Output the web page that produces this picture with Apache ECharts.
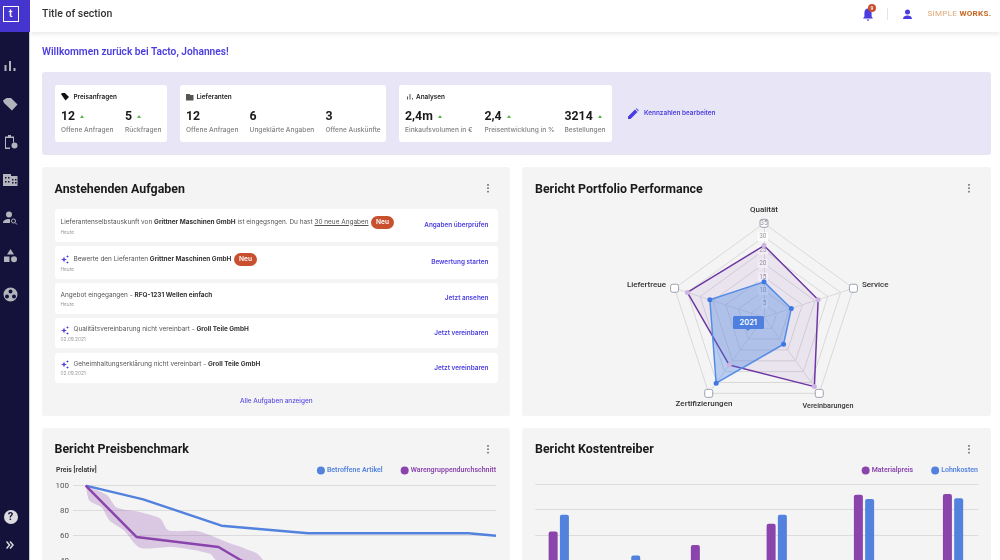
<![CDATA[<!DOCTYPE html>
<html lang="de"><head><meta charset="utf-8">
<script src="https://cdn.jsdelivr.net/npm/echarts@6/dist/echarts.min.js"></script>
<style>
*{box-sizing:border-box;margin:0;padding:0}
html,body{width:1000px;height:560px;overflow:hidden;background:#fff;font-family:Inter,Roboto,sans-serif;color:#333}
.a{position:absolute;white-space:nowrap}
#page{position:absolute;left:0;top:0;width:1000px;height:560px;overflow:hidden;filter:blur(.45px)}
.side{left:0;top:0;width:30px;height:560px;background:#14123a;border-right:1px solid #c9c9d2}
.logo{left:0;top:0;width:29.5px;height:32px;background:#4634cf}
.logo div{position:absolute;left:2.5px;top:5.5px;width:16px;height:16px;border:1.5px solid #fff;color:#fff;font:500 11px/13px Roboto;text-align:center}
.head{left:30px;top:0;width:970px;height:32px;background:#fff;box-shadow:0 2px 5px rgba(0,0,0,.09)}
.card{position:absolute;background:#f4f4f4;border-radius:3px}
.ttl{position:absolute;font:700 12.4px/16px Roboto;color:#1a1a1a;white-space:nowrap}
.kp{position:absolute;background:#fff;border-radius:3px;top:85px;height:57px}
.kh{position:absolute;top:92.5px;font:600 6.4px/8px Inter;color:#222;white-space:nowrap}
.kn{position:absolute;top:109px;font:700 12.3px/15px Roboto;color:#1a1a1a;white-space:nowrap}
.kn i{display:inline-block;width:0;height:0;border-left:2.2px solid transparent;border-right:2.2px solid transparent;border-bottom:3.2px solid #62b04e;margin-left:5px;vertical-align:2px}
.kl{position:absolute;top:126px;font:500 6.6px/8px Inter;color:#808080;white-space:nowrap}
.row{position:absolute;left:54.5px;width:443px;background:#fff;border-radius:3px}
.rt{position:absolute;font:400 6.45px/9px Inter;color:#555;white-space:nowrap}
.rt b{font-weight:700;color:#333}
.rd{position:absolute;font:400 4.8px/6px Inter;color:#999;white-space:nowrap}
.ra{position:absolute;right:511.5px;font:600 6.4px/9px Inter;color:#4a3de0;white-space:nowrap}
.neu{position:absolute;background:#c8502f;color:#fff;font:600 6.6px/13px Inter;height:13px;border-radius:7px;width:23px;text-align:center}
.dots{position:absolute;width:2px;height:9px;background:radial-gradient(circle at 1px 1px,#888 .9px,transparent 1px) 0 0/2px 3.4px repeat-y}
.ch{position:absolute}
.ic{position:absolute;fill:#b4b4bc}
</style></head><body>
<div id="page">
<div class="a head"></div>
<div class="a" style="left:42px;top:7px;font:500 10.5px/13px Roboto;color:#333">Title of section</div>
<svg class="ic" style="left:861.5px;top:7px;fill:#4a3de0" width="12" height="16" viewBox="0 0 12 16"><path d="M6 1.5c-2.4 0-3.6 2-3.6 4.400V9.500L1 11.500h10L9.600 9.500V5.900C9.600 3.500 8.400 1.500 6 1.500zM4.700 12.500a1.300 1.300 0 0 0 2.600 0z"/></svg>
<div class="a" style="left:868px;top:3.5px;width:8px;height:8px;border-radius:4px;background:#c8502f;color:#fff;font:500 5px/8px Roboto;text-align:center">9</div>
<div class="a" style="left:887px;top:8px;width:.8px;height:12px;background:#e5e5e5"></div>
<svg class="ic" style="left:902px;top:8.5px;fill:#4a3de0" width="11" height="11" viewBox="0 0 11 11"><circle cx="5.500" cy="3" r="2.500"/><path d="M1 10c0-2.500 2.500-3.500 4.500-3.500S10 7.500 10 10z"/></svg>
<div class="a" style="left:927.500px;top:8px;font:400 8.100px/11px Roboto;letter-spacing:.25px;color:#e3a878">SIMPLE <b style="font-weight:700;color:#c8651f">WORKS.</b></div>

<div class="a side"></div><div class="a logo"><div>t</div></div>
<svg class="ic" style="left:3px;top:59px" width="14" height="14" viewBox="0 0 14 14"><rect x="1.500" y="6" width="2" height="6"/><rect x="6" y="2" width="2" height="10"/><rect x="10.500" y="9" width="2" height="3"/></svg>
<svg class="ic" style="left:3px;top:97px" width="15" height="15" viewBox="0 0 15 15"><path d="M0 3.500 3.500 1H8l6.500 6.500L9 13.500 1 6z"/></svg>
<svg class="ic" style="left:3.500px;top:134px" width="14" height="16" viewBox="0 0 14 16"><path fill-rule="evenodd" d="M1 2.500h3V1h3v1.500h3v6H9V4H2v9.500h4V15H1z"/><circle cx="10.500" cy="11.500" r="3"/></svg>
<svg class="ic" style="left:3px;top:173px" width="15" height="14" viewBox="0 0 15 14"><path d="M0 1h8v2h6.500v10H0z"/><path d="M2 4h1.500v1.500H2zM5 4h1.500v1.500H5zM2 8h1.500v1.500H2zM5 8h1.500v1.500H5zM9 6h1.500v1.500H9zM12 6h1.500v1.500H12zM9 9h1.500v1.500H9zM12 9h1.500v1.500H12z" fill="#14123a"/></svg>
<svg class="ic" style="left:3px;top:211px" width="15" height="14" viewBox="0 0 15 14"><circle cx="6" cy="3.500" r="3"/><path d="M0 12c0-3 3-4 6-4 .800 0 1 .500 1 1v3z"/><circle cx="10.500" cy="10" r="2" fill="none" stroke="#b4b4bc" stroke-width="1"/><path d="M12 11.500l2 2" stroke="#b4b4bc"/></svg>
<svg class="ic" style="left:3px;top:249px" width="15" height="14" viewBox="0 0 15 14"><path d="M7.500 0 11 5.500H4z"/><rect x="1" y="7.500" width="5.500" height="5.500"/><circle cx="11" cy="10.300" r="3"/></svg>
<svg class="ic" style="left:3px;top:287px" width="15" height="15" viewBox="0 0 15 15"><path fill-rule="evenodd" d="M7.500.500a7 7 0 1 0 0 14 7 7 0 0 0 0-14zM7.500 2.500a2 2 0 1 1 0 4 2 2 0 0 1 0-4zM4 7.500a2 2 0 1 1 0 4 2 2 0 0 1 0-4zM11 7.500a2 2 0 1 1 0 4 2 2 0 0 1 0-4z"/></svg>
<div class="a" style="left:3.500px;top:510px;width:14px;height:14px;border-radius:7px;background:#dcdce0;color:#14123a;font:700 11px/14px Roboto;text-align:center">?</div>
<svg class="ic" style="left:6px;top:541px" width="8" height="8" viewBox="0 0 8 8"><path d="M.5.500 3.500 4 .5 7.500M4 .5 7 4 4 7.500" fill="none" stroke="#dcdce0" stroke-width="1.500"/></svg>

<div class="a" style="left:42px;top:45px;font:600 10.200px/14px Roboto;color:#4a3de0">Willkommen zurück bei Tacto, Johannes!</div>
<div class="a" style="left:42px;top:72px;width:949px;height:82.500px;background:#e8e6f6;border-radius:3px"></div>
<div class="kp" style="left:54.500px;width:112.500px"></div>
<div class="kp" style="left:179.500px;width:206.500px"></div>
<div class="kp" style="left:399px;width:213px"></div>
<svg class="ic" style="left:61px;top:92.500px;fill:#111" width="8" height="8" viewBox="0 0 8 8"><path d="M0 1 1 0h3l4 4-3.500 3.500z"/></svg>
<svg class="ic" style="left:186px;top:93px;fill:#555" width="8" height="8" viewBox="0 0 8 8"><path d="M0 1h4v1h3.500v5.500H0z"/></svg>
<svg class="ic" style="left:406.500px;top:93px;fill:#555" width="7" height="7" viewBox="0 0 7 7"><rect x="0" y="3.500" width="1" height="3"/><rect x="2.500" y="1" width="1" height="5.500"/><rect x="5" y="5" width="1" height="1.500"/></svg>
<div class="kh" style="left:73.500px">Preisanfragen</div><div class="kh" style="left:196.500px">Lieferanten</div><div class="kh" style="left:416px">Analysen</div>
<div class="kn" style="left:61px">12<i></i></div><div class="kn" style="left:125px">5<i></i></div>
<div class="kn" style="left:186px">12</div><div class="kn" style="left:249.500px">6</div><div class="kn" style="left:325.500px">3</div>
<div class="kn" style="left:405px">2,4m<i></i></div><div class="kn" style="left:484.500px">2,4<i></i></div><div class="kn" style="left:564.500px">3214<i></i></div>
<div class="kl" style="left:61px">Offene Anfragen</div><div class="kl" style="left:125px">Rückfragen</div>
<div class="kl" style="left:186px">Offene Anfragen</div><div class="kl" style="left:249.500px">Ungeklärte Angaben</div><div class="kl" style="left:325.500px">Offene Auskünfte</div>
<div class="kl" style="left:405px">Einkaufsvolumen in €</div><div class="kl" style="left:484.500px">Preisentwicklung in %</div><div class="kl" style="left:564.500px">Bestellungen</div>
<svg class="ic" style="left:628px;top:108px;fill:#4a3de0" width="11" height="11" viewBox="0 0 11 11"><path d="M0 11V8.500L7 1.500 9.500 4 2.500 11zM7.800.800 8.500.200l2.300 2.300-.700.700z"/></svg>
<div class="a" style="left:644px;top:109px;font:600 6.400px/9px Inter;color:#4a3de0">Kennzahlen bearbeiten</div>

<div class="card" style="left:42px;top:167px;width:468px;height:248.500px"></div>
<div class="card" style="left:522px;top:167px;width:469px;height:248.500px"></div>
<div class="card" style="left:42px;top:428px;width:468px;height:140px"></div>
<div class="card" style="left:522px;top:428px;width:469px;height:140px"></div>
<div class="ttl" style="left:54.500px;top:180.500px">Anstehenden Aufgaben</div>
<div class="ttl" style="left:535px;top:180.500px">Bericht Portfolio Performance</div>
<div class="ttl" style="left:54.500px;top:441px">Bericht Preisbenchmark</div>
<div class="ttl" style="left:535px;top:441px">Bericht Kostentreiber</div>
<div class="dots" style="left:487px;top:184px"></div><div class="dots" style="left:967.500px;top:184px"></div>
<div class="dots" style="left:487px;top:445px"></div><div class="dots" style="left:967.500px;top:445px"></div>

<div class="row" style="top:209.300px;height:32.300px"></div>
<div class="row" style="top:246.300px;height:32.300px"></div>
<div class="row" style="top:283px;height:30.700px"></div>
<div class="row" style="top:318px;height:30.300px"></div>
<div class="row" style="top:353px;height:30.300px"></div>
<div class="rt" style="left:60.500px;top:217.500px">Lieferantenselbstauskunft von <b>Grittner Maschinen GmbH</b> ist eingegsngen. Du hast <u>30 neue Angaben</u></div>
<div class="neu" style="left:371px;top:215.500px">Neu</div>
<div class="rd" style="left:60.500px;top:229px">Heute</div><div class="ra" style="top:221px">Angaben überprüfen</div>
<div class="rt" style="left:73.500px;top:254.500px">Bewerte den Lieferanten <b>Grittner Maschinen GmbH</b></div>
<div class="neu" style="left:234px;top:252.500px">Neu</div>
<div class="rd" style="left:60.500px;top:266px">Heute</div><div class="ra" style="top:258px">Bewertung starten</div>
<div class="rt" style="left:60.500px;top:290.500px">Angebot eingegangen - <b>RFQ-1231 Wellen einfach</b></div>
<div class="rd" style="left:60.500px;top:300.500px">Heute</div><div class="ra" style="top:294px">Jetzt ansehen</div>
<div class="rt" style="left:73.500px;top:325px">Qualitätsvereinbarung nicht vereinbart - <b>Groll Teile GmbH</b></div>
<div class="rd" style="left:60.500px;top:335.500px">02.09.2021</div><div class="ra" style="top:329px">Jetzt vereinbaren</div>
<div class="rt" style="left:73.500px;top:359.500px">Geheimhaltungserklärung nicht vereinbart - <b>Groll Teile GmbH</b></div>
<div class="rd" style="left:60.500px;top:370px">02.09.2021</div><div class="ra" style="top:363.500px">Jetzt vereinbaren</div>
<svg class="ic" style="left:61px;top:254.500px;fill:#4a3de0" width="8" height="9" viewBox="0 0 8 9"><path d="M3 1.500l.8 2.200 2.200.8-2.200.8L3 7.500l-.8-2.200L0 4.500l2.200-.8zM6.500 0l.4 1.100L8 1.500l-1.100.4-.4 1.100-.4-1.100L5 1.500l1.100-.4zM6.500 6l.4 1.100L8 7.500l-1.100.4-.4 1.100-.4-1.100L5 7.500l1.100-.4z"/></svg>
<svg class="ic" style="left:61px;top:325.500px;fill:#4a3de0" width="8" height="9" viewBox="0 0 8 9"><path d="M3 1.500l.8 2.200 2.200.8-2.200.8L3 7.500l-.8-2.200L0 4.500l2.200-.8zM6.500 0l.4 1.100L8 1.500l-1.100.4-.4 1.100-.4-1.100L5 1.500l1.100-.4zM6.500 6l.4 1.100L8 7.500l-1.100.4-.4 1.100-.4-1.100L5 7.500l1.100-.4z"/></svg>
<svg class="ic" style="left:61px;top:360px;fill:#4a3de0" width="8" height="9" viewBox="0 0 8 9"><path d="M3 1.500l.8 2.200 2.200.8-2.200.8L3 7.500l-.8-2.200L0 4.500l2.200-.8zM6.500 0l.4 1.100L8 1.500l-1.100.4-.4 1.100-.4-1.100L5 1.500l1.100-.4zM6.500 6l.4 1.100L8 7.500l-1.100.4-.4 1.100-.4-1.100L5 7.500l1.100-.4z"/></svg>
<div class="a" style="left:240px;top:397px;font:500 6.400px/9px Inter;color:#5a4de0">Alle Aufgaben anzeigen</div>

<div class="ch" id="radar" style="left:522px;top:167px;width:469px;height:248px"></div>
<div class="a" style="left:732.500px;top:316px;width:31.500px;height:13px;background:#4f7fdf;border-radius:1.500px;color:#fff;font:600 7.500px/13px Inter;text-align:center">2021</div>
<div class="a" style="left:746px;top:329px;width:0;height:0;border-left:2px solid transparent;border-right:2px solid transparent;border-top:2.500px solid #4f7fdf"></div>
<div class="ch" id="line" style="left:42px;top:428px;width:468px;height:210px"></div>
<div class="ch" id="bars" style="left:522px;top:428px;width:469px;height:210px"></div>
</div>
<script>
// --- radar ---
const radarAxes = ['Qualität','Liefertreue','Zertifizierungen','Vereinbarungen','Service'];
const radarMax = 35;
const radarPurple = [26.7, 30, 22, 31.9, 21.2];
const radarBlue = [13.2, 21.2, 30.3, 12.4, 10.7];
const radarOuter = [35, 35, 35, 35, 35];
const radarTop = [35, '-', '-', '-', '-'];
// --- price benchmark: [x position, price] ---
const benchBlue = [[3,100],[16.6,89],[35.1,68],[55.6,62],[93.5,62],[100,60]];
const benchPurple = [[3,100],[15,59],[34.4,51],[39.9,40],[60,20],[93,12]];
const benchBandUpper = [[3,100],[8,92.5],[10.3,82.6],[15.8,79],[20.6,73.7],[22.5,64.3],[29.6,63.5],[36.3,55],[43.4,46],[45.4,39.7],[62,26],[93,16]];
const benchBandLower = [[93,8],[60,12],[34,39.7],[32.4,45.5],[23.7,50.9],[15.8,50.4],[12,64.3],[8.7,71.9],[6.800,82.6],[3.900,87.900],[3,100]];
// --- cost drivers: [x position, value] ---
const costMaterial = [[5.3,62.6],[21.4,25],[37.4,52],[54.5,68.7],[74.2,91.6],[94.3,92.1]];
const costLabour = [[5.3,75.8],[21.4,43.7],[37.4,30],[54.5,75.8],[74.2,88.2],[94.3,88.7]];
const PURPLE = '#8a44ac', BLUE = '#5282de', GRID = '#dcdcdc';
const lowerRadarNames = ['Zertifizierungen','Vereinbarungen'];

const legendBase = {icon:'circle',itemWidth:8,itemHeight:8,itemGap:18,top:38.500,right:14,padding:0,
  textStyle:{color:'inherit',fontFamily:'Roboto',fontWeight:600,fontSize:7,padding:[0,0,0,-3]}};

const radar = echarts.init(document.getElementById('radar'),null,{renderer:'canvas'});
radar.setOption({
  animation:false,
  radar:{center:[242,150.300],radius:94,startAngle:90,splitNumber:7,shape:'polygon',
    indicator:radarAxes.map((n,i)=>({name:n,max:radarMax,min:0,
      axisLabel:i===0?{show:true,color:'#999',fontSize:6.500,fontFamily:'Roboto',margin:-4,backgroundColor:'rgba(255,255,255,.85)',padding:[1,1.500],showMaxLabel:false,showMinLabel:false}:{show:false}})),
    axisName:{color:'#333',fontFamily:'Roboto',fontWeight:500,fontSize:8,formatter:n=>lowerRadarNames.includes(n)?'':n},
    nameGap:9,
    splitArea:{show:false},
    splitLine:{lineStyle:{color:'#d8d8d8',width:1}},
    axisLine:{lineStyle:{color:'#dadada',width:1}},
    axisTick:{show:false}},
  graphic:[
    {type:'text',x:182,y:237,style:{text:lowerRadarNames[0],x:0,y:0,align:'center',verticalAlign:'middle',fill:'#333',font:'500 8px Roboto'}},
    {type:'text',x:306,y:239,style:{text:lowerRadarNames[1],x:0,y:0,align:'center',verticalAlign:'middle',fill:'#333',font:'500 7.2px Roboto'}}
  ],
  series:[
    {type:'radar',silent:true,data:[{value:radarPurple,symbol:'circle',symbolSize:5,
      itemStyle:{color:'#cdb3e2'},lineStyle:{color:'#6c37a0',width:1.500},areaStyle:{color:'rgba(138,68,172,.09)',opacity:1}}]},
    {type:'radar',silent:true,data:[{value:radarBlue,symbol:'circle',symbolSize:5,
      itemStyle:{color:'#3f78e2'},lineStyle:{color:'#5a8fe8',width:1.500},areaStyle:{color:'rgba(70,130,225,.35)',opacity:1}}]},
    {type:'radar',silent:true,data:[{value:radarOuter,symbol:'roundRect',symbolSize:8,
      itemStyle:{color:'#fff',borderColor:'#9aa0b0',borderWidth:1},lineStyle:{opacity:0},areaStyle:{opacity:0}}]},
    {type:'radar',silent:true,z:4,data:[{value:radarTop,symbol:'circle',symbolSize:1,
      itemStyle:{color:'transparent'},lineStyle:{opacity:0},areaStyle:{opacity:0},
      label:{show:true,position:'inside',color:'#999',fontSize:6.500,fontFamily:'Roboto'}}]}
  ]});

const line = echarts.init(document.getElementById('line'));
line.setOption({
  animation:false,
  title:{text:'Preis [relativ]',left:14,top:38,padding:0,textStyle:{fontFamily:'Roboto',fontWeight:600,fontSize:6.900,color:'#333',lineHeight:9}},
  legend:Object.assign({},legendBase,{data:['Betroffene Artikel','Warengruppendurchschnitt']}),
  grid:{left:31,top:57.700,width:423,height:125},
  xAxis:{type:'value',min:0,max:100,show:false},
  yAxis:{type:'value',min:0,max:100,interval:20,axisLine:{show:false},axisTick:{show:false},
    axisLabel:{color:'#555',fontFamily:'Roboto',fontSize:8,margin:4},splitLine:{lineStyle:{color:GRID,width:1.200}}},
  series:[
    {type:'custom',name:'Bandbreite',silent:true,coordinateSystem:'cartesian2d',
      data:benchBandUpper.concat(benchBandLower),encode:{x:0,y:1},z:1,
      renderItem(p,api){
        if(p.dataIndex!==0) return null;
        const pts=benchBandUpper.concat(benchBandLower).map(d=>api.coord(d));
        return {type:'polygon',shape:{points:pts,smooth:0.25},style:{fill:'rgba(138,68,172,.25)'}};
      }},
    {type:'line',name:'Betroffene Artikel',data:benchBlue,symbol:'none',lineStyle:{color:BLUE,width:2.400},itemStyle:{color:BLUE},z:3},
    {type:'line',name:'Warengruppendurchschnitt',data:benchPurple,symbol:'none',lineStyle:{color:PURPLE,width:2.400},itemStyle:{color:PURPLE},z:3}
  ]});

const bars = echarts.init(document.getElementById('bars'));
bars.setOption({
  animation:false,
  legend:Object.assign({},legendBase,{right:13,data:['Materialpreis','Lohnkosten']}),
  grid:{left:13.300,top:56,width:443,height:127},
  xAxis:{type:'value',min:0,max:100,show:false},
  yAxis:{type:'value',min:0,max:100,interval:20,axisLine:{show:false},axisTick:{show:false},axisLabel:{show:false},splitLine:{lineStyle:{color:GRID,width:1.200}}},
  series:[
    {type:'bar',name:'Materialpreis',data:costMaterial,barWidth:9,barGap:'25%',itemStyle:{color:PURPLE,borderRadius:[2,2,0,0]}},
    {type:'bar',name:'Lohnkosten',data:costLabour,barWidth:9,barGap:'25%',itemStyle:{color:BLUE,borderRadius:[2,2,0,0]}}
  ]});
</script>
</body></html>]]>
